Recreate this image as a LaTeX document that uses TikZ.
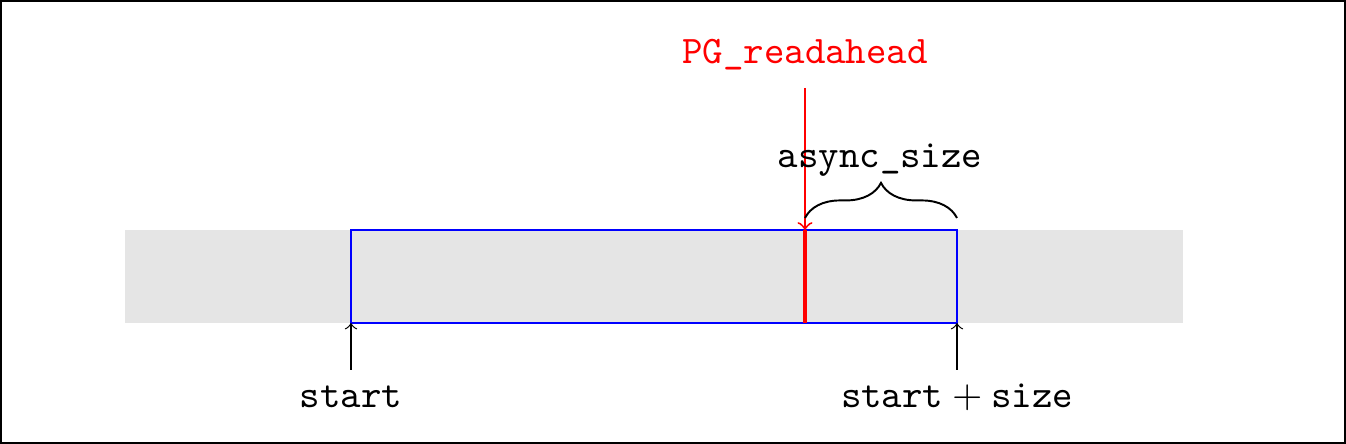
\documentclass[tikz,border=0pt]{standalone}
\usetikzlibrary{decorations.pathreplacing}
\begin{document}
\begin{tikzpicture}[x=0.2564pt,y=-0.2564pt,
  lbl/.style={font=\ttfamily},
  ptr/.style={->,line width=0.3pt}]
\useasboundingbox (0,0) rectangle (1346,444);
\draw[line width=0.5pt] (1,1) rectangle (1345,443);
\fill[black!10] (125,230) rectangle (1183,323);
\draw[blue,line width=0.5pt] (351,230) rectangle (957,323);
\draw[red,line width=0.8pt] (805,230) -- (805,323);
\node[lbl,text=red] (pg) at (805,55) {PG\_readahead};
\coordinate (pgtop) at (805,88);
\coordinate (pgbot) at (805,230);
\draw[red,line width=0.5pt,->] (pgtop) -- (pgbot);
\coordinate (b1) at (805,218);
\coordinate (b2) at (957,218);
\draw[line width=0.5pt,decorate,decoration={brace,amplitude=9pt}] (b1) -- (b2);
\node[lbl] (as) at (880,160) {async\_size};
\coordinate (s0) at (351,370); \coordinate (s1) at (351,323);
\coordinate (e0) at (957,370); \coordinate (e1) at (957,323);
\draw[ptr] (s0) -- (s1);
\draw[ptr] (e0) -- (e1);
\node[lbl] (st) at (351,397) {start};
\node (se) at (957,397) {$\texttt{start}+\texttt{size}$};
\end{tikzpicture}
\end{document}
